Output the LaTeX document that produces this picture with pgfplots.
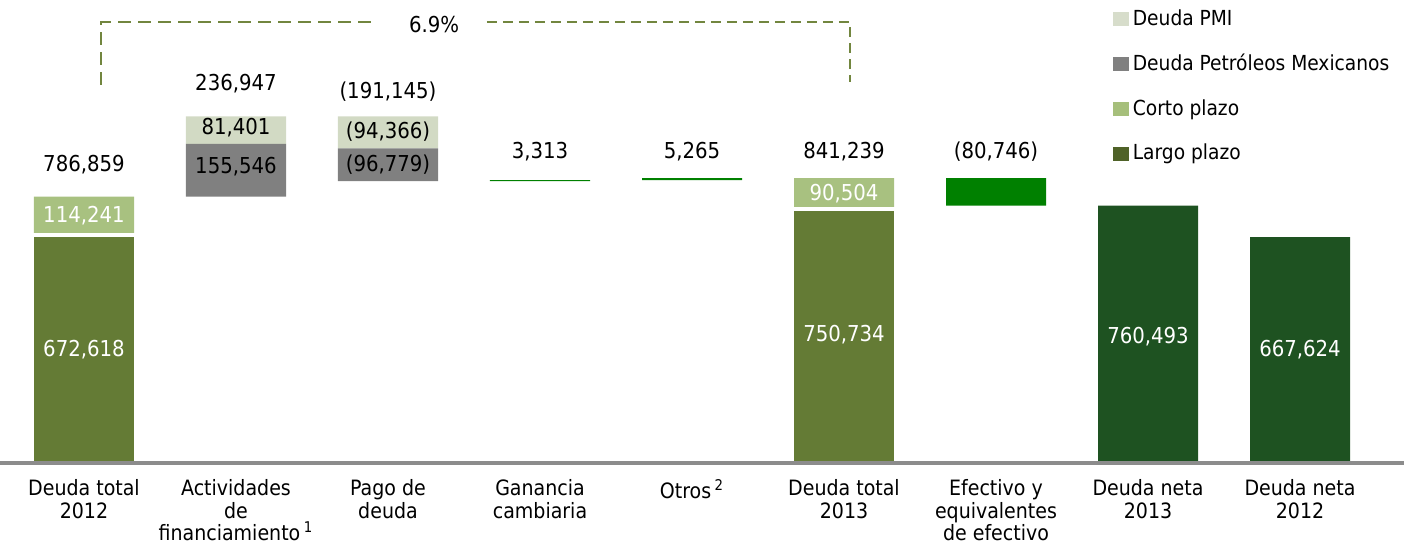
\documentclass[border=0pt]{standalone}
\usepackage{fontspec}
\setmainfont{DejaVu Sans Condensed}
\usepackage{pgfplots}
\usepackage{pgfplotstable}
\pgfplotsset{compat=1.18}
\definecolor{largo}{HTML}{647B35}
\definecolor{corto}{HTML}{A8C180}
\definecolor{pmi}{HTML}{D2DAC4}
\definecolor{pemex}{HTML}{808080}
\definecolor{efect}{HTML}{008000}
\definecolor{neta}{HTML}{1E5221}
\definecolor{axisgray}{HTML}{8C8C8C}
\definecolor{bracket}{HTML}{72863F}
\definecolor{leglargo}{HTML}{4F6228}
\definecolor{legcorto}{HTML}{A6BF7B}
\definecolor{legpmi}{HTML}{D7DDCB}

% values in thousands of pesos
\pgfplotstableread{
x base largo pemex corto pmi efect neta
0 0       672.618 0      114.241 0      0      0
1 786.859 0       155.546 0      81.401 0      0
2 832.661 0       96.779  0      94.366 0      0
3 832.661 0       0       0      0      3.313  0
4 835.974 0       0       0      0      5.265  0
5 0       750.734 0       90.504 0      0      0
6 760.493 0       0       0      0      80.746 0
7 0       0       0       0      0      0      760.493
8 0       0       0       0      0      0      667.624
}\datos

\pgfplotsset{sq/.style={legend image code/.code={\fill[#1] (0bp,-3.3bp) rectangle (7.5bp,3.3bp);}}}
\tikzset{
  vlab/.style={font=\fontsize{11}{13}\selectfont, text=black},
  wlab/.style={font=\fontsize{11}{13}\selectfont, text=white},
}

\begin{document}
\begin{tikzpicture}
\begin{axis}[
  scale only axis, width=702bp, height=275bp,
  xmin=-0.5526, xmax=8.6842, ymin=-257, ymax=1367.8,
  axis x line=middle, axis y line=none, axis on top,
  x axis line style={-, draw=axisgray, line width=2bp},
  xtick={0,...,8},
  xticklabels={{Deuda total\\2012},{Actividades\\de\\financiamiento\,\textsuperscript{1}},{Pago de\\deuda},{Ganancia\\cambiaria},{Otros\,\textsuperscript{2}},{Deuda total\\2013},{Efectivo y\\equivalentes\\de efectivo},{Deuda neta\\2013},{Deuda neta\\2012}},
  major tick length=0pt,
  xticklabel style={align=center, font=\fontsize{10.6}{11.4}\selectfont, anchor=north, yshift=-7bp, inner sep=1bp},
  ytick=\empty,
  ybar stacked, bar width=0.658,
  clip=false,
  legend style={at={(rel axis cs:0.7925,0.99)}, anchor=north west, draw=none, fill=none,
    font=\fontsize{10.4}{12}\selectfont, row sep=8.9bp, inner sep=0pt,
    /tikz/every even column/.append style={column sep=0pt}},
  legend cell align=left,
]
\addplot[fill=none, draw=none, forget plot] table[x=x,y=base]{\datos};
\addplot[fill=largo, draw=white, line width=2bp, bar width=0.684, forget plot] table[x=x,y=largo]{\datos};
\addplot[fill=pemex, draw=none, forget plot] table[x=x,y=pemex]{\datos};
\addplot[fill=corto, draw=none, forget plot] table[x=x,y=corto]{\datos};
\addplot[fill=pmi, draw=none, forget plot] table[x=x,y=pmi]{\datos};
\addplot[fill=efect, draw=none, forget plot] table[x=x,y=efect]{\datos};
\addplot[fill=neta, draw=none, forget plot] table[x=x,y=neta]{\datos};

\addlegendimage{sq=legpmi}\addlegendentry{Deuda PMI}
\addlegendimage{sq=pemex}\addlegendentry{Deuda Petróleos Mexicanos}
\addlegendimage{sq=legcorto}\addlegendentry{Corto plazo}
\addlegendimage{sq=leglargo}\addlegendentry{Largo plazo}

\coordinate (BL) at (rel axis cs:0,0);
\coordinate (TR) at (rel axis cs:1,1);
% label anchors
\coordinate (t0) at (axis cs:0,880.4);
\coordinate (t1) at (axis cs:1,1119.6);
\coordinate (t2) at (axis cs:2,1096.0);
\coordinate (t3) at (axis cs:3,918.7);
\coordinate (t4) at (axis cs:4,918.7);
\coordinate (t5) at (axis cs:5,918.7);
\coordinate (t6) at (axis cs:6,918.7);
\coordinate (s0a) at (axis cs:0,729.7);
\coordinate (s0b) at (axis cs:0,336.3);
\coordinate (s1a) at (axis cs:1,990);
\coordinate (s1b) at (axis cs:1,875);
\coordinate (s2a) at (axis cs:2,980);
\coordinate (s2b) at (axis cs:2,881);
\coordinate (s5a) at (axis cs:5,797);
\coordinate (s5b) at (axis cs:5,378);
\coordinate (s7) at (axis cs:7,372);
\coordinate (s8) at (axis cs:8,333.8);
\coordinate (pct) at (axis cs:2.303,1294);

% bracket 6.9%
\draw[bracket, line width=1bp, dash pattern=on 6.5bp off 3.5bp]
  (axis cs:0.112,1116.7) -- (axis cs:0.112,1302.8) -- (axis cs:1.921,1302.8);
\draw[bracket, line width=1bp, dash pattern=on 5bp off 3bp]
  (axis cs:2.651,1302.8) -- (axis cs:5.039,1302.8) -- (axis cs:5.039,1125.6);
\end{axis}

\node[vlab] at (t0) {786,859};
\node[vlab] at (t1) {236,947};
\node[vlab] at (t2) {(191,145)};
\node[vlab] at (t3) {3,313};
\node[vlab] at (t4) {5,265};
\node[vlab] at (t5) {841,239};
\node[vlab] at (t6) {(80,746)};
\node[wlab] at (s0a) {114,241};
\node[wlab] at (s0b) {672,618};
\node[vlab] at (s1a) {81,401};
\node[vlab] at (s1b) {155,546};
\node[vlab] at (s2a) {(94,366)};
\node[vlab] at (s2b) {(96,779)};
\node[wlab] at (s5a) {90,504};
\node[wlab] at (s5b) {750,734};
\node[wlab] at (s7) {760,493};
\node[wlab] at (s8) {667,624};
\node[vlab] at (pct) {6.9\%};

\pgfresetboundingbox
\path[use as bounding box] (BL) rectangle (TR);
\end{tikzpicture}
\end{document}
